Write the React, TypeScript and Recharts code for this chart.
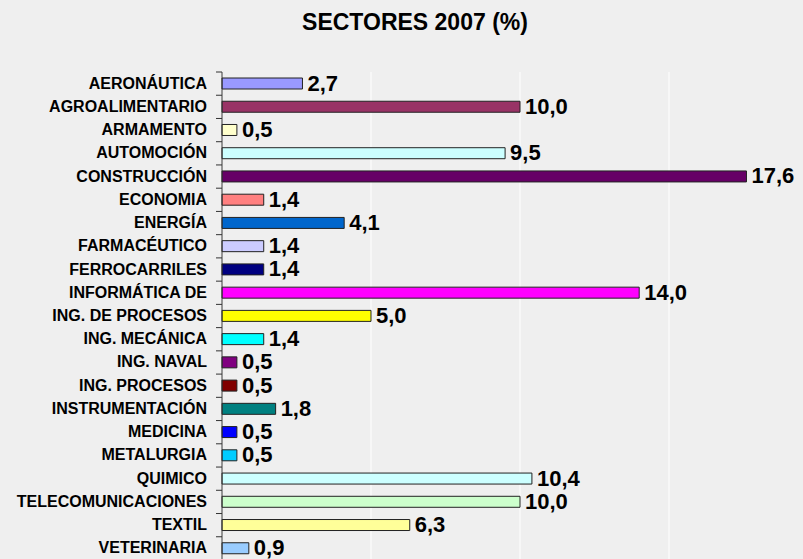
import { Bar, BarChart, CartesianGrid, Cell, LabelList, XAxis, YAxis } from "recharts";

const sectors = [
  "AERONÁUTICA",
  "AGROALIMENTARIO",
  "ARMAMENTO",
  "AUTOMOCIÓN",
  "CONSTRUCCIÓN",
  "ECONOMIA",
  "ENERGÍA",
  "FARMACÉUTICO",
  "FERROCARRILES",
  "INFORMÁTICA DE",
  "ING. DE PROCESOS",
  "ING. MECÁNICA",
  "ING. NAVAL",
  "ING. PROCESOS",
  "INSTRUMENTACIÓN",
  "MEDICINA",
  "METALURGIA",
  "QUIMICO",
  "TELECOMUNICACIONES",
  "TEXTIL",
  "VETERINARIA",
];
const shares = [2.7, 10.0, 0.5, 9.5, 17.6, 1.4, 4.1, 1.4, 1.4, 14.0, 5.0, 1.4, 0.5, 0.5, 1.8, 0.5, 0.5, 10.4, 10.0, 6.3, 0.9];
const barColors = [
  "#9999FF", "#993366", "#FFFFCC", "#CCFFFF", "#660066", "#FF8080", "#0066CC",
  "#CCCCFF", "#000080", "#FF00FF", "#FFFF00", "#00FFFF", "#800080", "#800000",
  "#008080", "#0000FF", "#00CCFF", "#CCFFFF", "#CCFFCC", "#FFFF99", "#99CCFF",
];
const xTicks = [0, 5, 10, 15, 20];

const data = sectors.map((sector, i) => ({ sector, share: shares[i] }));

const FONT = '"Liberation Sans", Arial, sans-serif';
const fmt = (v: number) => v.toFixed(1).replace(".", ",");

function CategoryTick(props: any) {
  const { x, y, payload } = props;
  const top = y - (payload.offset ?? 0);
  return (
    <g>
      <line x1={x + 9} x2={x + 15} y1={top} y2={top} stroke="#333" />
      <text x={x} y={y + 5} textAnchor="end" fontFamily={FONT} fontWeight="bold" fontSize={16} fill="#000">
        {payload.value}
      </text>
    </g>
  );
}

function ValueLabel(props: any) {
  const { x, y, width, height, value } = props;
  return (
    <text x={x + width + 5} y={y + height / 2 + 7} fontFamily={FONT} fontWeight="bold" fontSize={22} fill="#000">
      {fmt(value)}
    </text>
  );
}

export default function App() {
  return (
    <div
      style={{
        position: "absolute",
        left: 0,
        top: 0,
        width: 803,
        height: 559,
        overflow: "hidden",
        background: "#EFEFEF",
      }}
    >
      <div
        style={{
          position: "absolute",
          left: 0,
          top: 11,
          width: 830,
          textAlign: "center",
          fontFamily: FONT,
          fontWeight: "bold",
          fontSize: 23,
          lineHeight: "23px",
          color: "#000",
        }}
      >
        SECTORES 2007 (%)
      </div>
      <BarChart
        width={830}
        height={570}
        data={data}
        layout="vertical"
        margin={{ top: 72, right: 12, bottom: 10, left: 0 }}
      >
        <CartesianGrid horizontal={false} stroke="#FFFFFF" strokeWidth={1} />
        <XAxis type="number" domain={[0, 20]} ticks={xTicks} hide />
        <YAxis
          type="category"
          dataKey="sector"
          width={222}
          interval={0}
          axisLine={{ stroke: "#333" }}
          tickLine={false}
          tickSize={6}
          tickMargin={9}
          tick={<CategoryTick />}
        />
        <Bar dataKey="share" barSize={11} stroke="#222" strokeWidth={1} isAnimationActive={false}>
          {data.map((d, i) => (
            <Cell key={d.sector} fill={barColors[i]} />
          ))}
          <LabelList dataKey="share" content={<ValueLabel />} />
        </Bar>
      </BarChart>
    </div>
  );
}
